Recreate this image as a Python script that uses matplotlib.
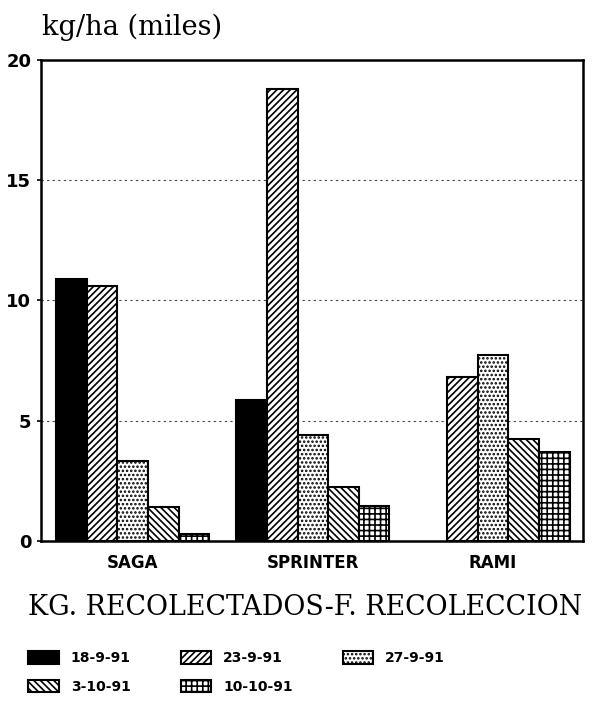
import matplotlib
matplotlib.use("Agg")
import matplotlib.pyplot as plt
import numpy as np

# Data (kg/ha, thousands)
varieties = ["SAGA", "SPRINTER", "RAMI"]
dates = ["18-9-91", "23-9-91", "27-9-91", "3-10-91", "10-10-91"]
kg_18_9 = [10.9, 5.85, 0.0]
kg_23_9 = [10.6, 18.8, 6.8]
kg_27_9 = [3.35, 4.4, 7.75]
kg_3_10 = [1.4, 2.25, 4.25]
kg_10_10 = [0.3, 1.45, 3.7]

series = [kg_18_9, kg_23_9, kg_27_9, kg_3_10, kg_10_10]
faces = ["black", "white", "white", "white", "white"]
hatches = [None, "/////", "....", "\\\\\\\\\\", "+++"]

plt.rcParams["hatch.linewidth"] = 1.2

fig = plt.figure(figsize=(5.92, 7.12), dpi=100)
ax = fig.add_axes([0.069, 0.240, 0.916, 0.676])

x = np.arange(len(varieties))
width = 0.17
handles = []
for i, (vals, fc, h) in enumerate(zip(series, faces, hatches)):
    offs = (i - 2) * width
    # no outline for empty bars
    lws = [1.5 if v > 0 else 0 for v in vals]
    bars = ax.bar(x + offs, vals, width, color=fc, edgecolor="black",
                  linewidth=lws, hatch=h, label=dates[i])
    handles.append(bars)

ax.set_xlim(-0.51, 2.5)
ax.set_ylim(0, 20)
ax.set_yticks([0, 5, 10, 15, 20])
ax.set_yticklabels(["0", "5", "10", "15", "20"], fontsize=13, fontweight="bold")
ax.set_xticks(x)
ax.set_xticklabels(varieties, fontsize=12, fontweight="bold")
ax.tick_params(axis="x", length=0, pad=9)
ax.tick_params(axis="y", length=3, width=1.2, pad=4)
for sp in ax.spines.values():
    sp.set_linewidth(1.8)

for yv in [5, 10, 15]:
    ax.axhline(yv, color="#444444", linewidth=0.8, linestyle=(0, (2, 3)), zorder=0)

fig.text(0.071, 0.961, "kg/ha (miles)", family="DejaVu Serif", fontsize=19.6,
         va="center", ha="left")
fig.text(0.047, 0.147, "KG. RECOLECTADOS-F. RECOLECCION", family="DejaVu Serif",
         fontsize=19.4, va="center", ha="left")

# legend: row 1 = first three dates, row 2 = last two
order = [0, 3, 1, 4, 2]
leg = fig.legend([handles[k] for k in order], [dates[k] for k in order],
                 ncol=3, loc="upper left", bbox_to_anchor=(0.027, 0.103),
                 frameon=False, prop={"weight": "bold", "size": 10},
                 handlelength=2.2, handleheight=1.0, columnspacing=3.6,
                 handletextpad=0.85, labelspacing=1.05)

fig.savefig("out.png", dpi=100, facecolor="white")
